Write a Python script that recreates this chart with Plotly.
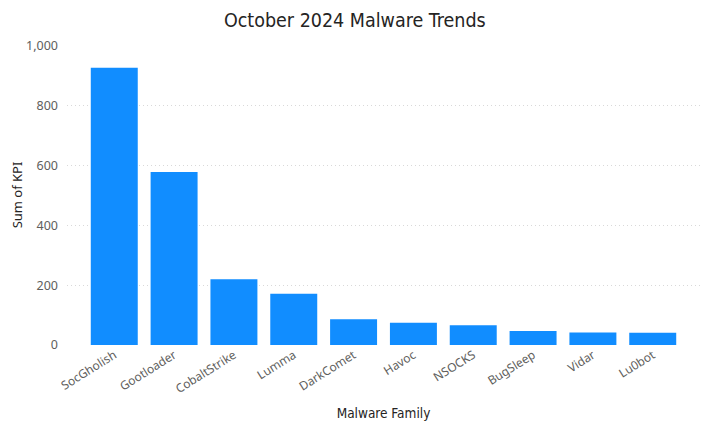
import plotly.graph_objects as go

families = ["SocGholish", "Gootloader", "CobaltStrike", "Lumma", "DarkComet",
            "Havoc", "NSOCKS", "BugSleep", "Vidar", "Lu0bot"]
kpi = [927, 578, 220, 171, 86, 74, 66, 47, 42, 41]

fig = go.Figure(go.Bar(
    x=families, y=kpi, marker_color="#118DFF",
    marker_line_width=0, width=0.785,
))

# the page body adds an 8px offset; margins compensate so the plot area sits at x 67-700, y 45-345
fig.update_layout(
    width=718, height=435,
    margin=dict(l=59, r=26, t=37, b=98),
    paper_bgcolor="white", plot_bgcolor="white",
    font=dict(family="Noto Sans, Open Sans, sans-serif", color="#605E5C", size=11),
    title=dict(text="October 2024 Malware Trends", x=0.483, xanchor="center",
               xref="container", y=0.972, yanchor="middle",
               font=dict(family="DejaVu Sans Condensed, DejaVu Sans", size=19.5, color="#252423")),
    showlegend=False,
)
fig.update_xaxes(
    range=[-0.79, 9.79], tickangle=-32, showgrid=False, showline=False, zeroline=False,
    ticks="", automargin=False, tickfont=dict(size=12, color="#605E5C"),
    title=dict(text="Malware Family", standoff=12,
               font=dict(family="DejaVu Sans Condensed, DejaVu Sans", size=13.5, color="#252423")),
)
fig.update_yaxes(
    range=[0, 1003], tickvals=[0, 200, 400, 600, 800, 1000], tickformat=",",
    showgrid=True, gridcolor="#D9D9D9", griddash="1px,3px", gridwidth=1,
    zeroline=False, showline=False, ticks="", ticklabelstandoff=8, automargin=False,
    tickfont=dict(size=12.5, color="#605E5C"),
    title=dict(text="Sum of KPI", standoff=0, font=dict(size=13, color="#252423")),
)
fig.write_html("out.html")
